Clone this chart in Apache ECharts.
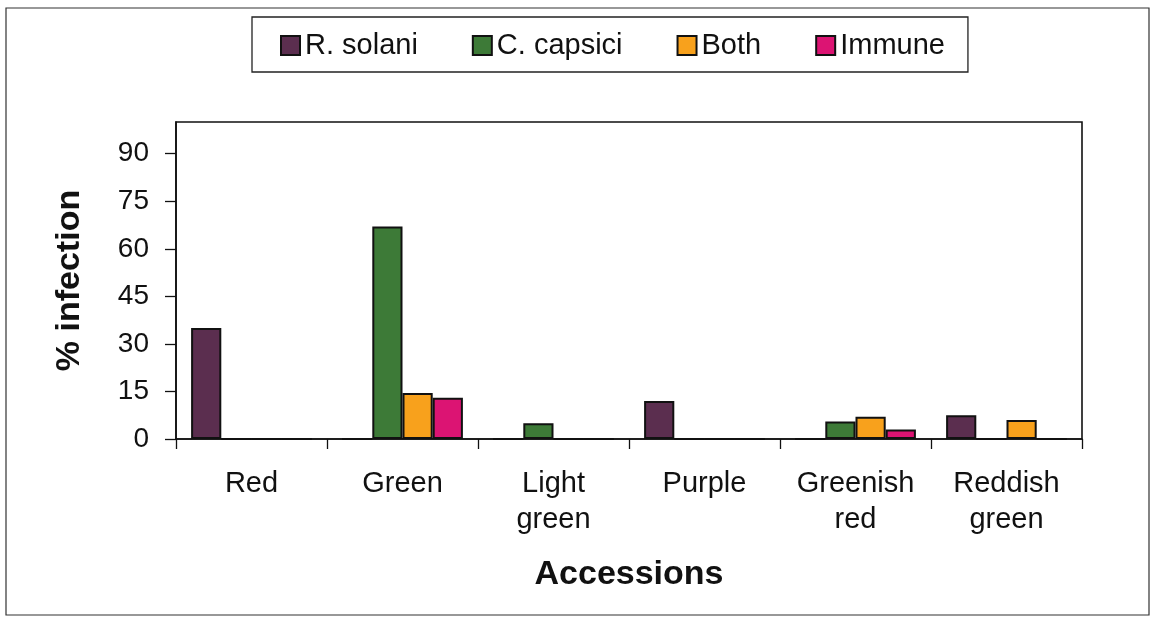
<!DOCTYPE html>
<html>
<head>
<meta charset="utf-8">
<script src="https://cdn.jsdelivr.net/npm/echarts@6/dist/echarts.min.js"></script>
<style>
  html, body { margin: 0; padding: 0; background: #fff; }
  #chart { width: 1155px; height: 624px; }
</style>
</head>
<body>
<div id="chart"></div>
<script>
// Accession colour groups and the share of plants infected by each pathogen
const categories = ['Red', 'Green', 'Light\ngreen', 'Purple', 'Greenish\nred', 'Reddish\ngreen'];
const seriesNames = ['R. solani', 'C. capsici', 'Both', 'Immune'];
const rSolani  = [35, 0, 0, 12, 0, 7.5];
const cCapsici = [0, 67, 5, 0, 5.5, 0];
const both     = [0, 14.5, 0, 0, 7, 6];
const immune   = [0, 13, 0, 0, 3, 0];
const yTicks = [0, 15, 30, 45, 60, 75, 90];

const colors = ['#5b2e4f', '#3d7a37', '#f8a11c', '#dc1473'];
const values = [rSolani, cCapsici, both, immune];
const FONT = '"Liberation Sans", Arial, sans-serif';

const chart = echarts.init(document.getElementById('chart'));
chart.setOption({
  animation: false,
  backgroundColor: '#fff',
  graphic: [{
    type: 'rect',
    shape: { x: 6, y: 8, width: 1143, height: 607 },
    style: { fill: 'none', stroke: '#333', lineWidth: 1.2 },
    silent: true
  }],
  legend: {
    data: seriesNames,
    left: 252,
    top: 17,
    padding: [14, 23, 12, 28],
    itemGap: 54,
    itemWidth: 19,
    itemHeight: 19,
    icon: 'rect',
    borderColor: '#222',
    borderWidth: 1.3,
    textStyle: { fontFamily: FONT, fontSize: 29, color: '#111' }
  },
  grid: {
    left: 176, right: 73, top: 122, bottom: 185,
    show: true, borderColor: '#111', borderWidth: 1.6,
    containLabel: false
  },
  xAxis: {
    type: 'category',
    data: categories,
    name: 'Accessions',
    nameLocation: 'middle',
    nameGap: 119,
    nameTextStyle: { fontFamily: FONT, fontSize: 34, fontWeight: 'bold', color: '#111' },
    axisLine: { lineStyle: { color: '#111', width: 1.6 } },
    axisTick: { show: true, inside: false, length: 10, lineStyle: { color: '#111', width: 1.3 } },
    axisLabel: {
      fontFamily: FONT, fontSize: 29, color: '#111',
      margin: 27, lineHeight: 36, interval: 0, verticalAlign: 'top'
    }
  },
  yAxis: {
    type: 'value',
    min: 0, max: 100, interval: 15,
    name: '% infection',
    nameLocation: 'middle',
    nameGap: 89,
    nameRotate: 90,
    nameTextStyle: { fontFamily: FONT, fontSize: 34, fontWeight: 'bold', color: '#111' },
    axisLine: { show: true, lineStyle: { color: '#111', width: 1.6 } },
    axisTick: {
      show: true, length: 11, lineStyle: { color: '#111', width: 1.3 },
      customValues: yTicks
    },
    axisLabel: {
      fontFamily: FONT, fontSize: 28, color: '#111', margin: 27,
      customValues: yTicks
    },
    splitLine: { show: false }
  },
  series: seriesNames.map((name, i) => ({
    name,
    type: 'bar',
    data: values[i],
    barGap: '0%',
    barCategoryGap: '20%',
    itemStyle: { color: colors[i], borderColor: '#111', borderWidth: 2 }
  }))
});
</script>
</body>
</html>
